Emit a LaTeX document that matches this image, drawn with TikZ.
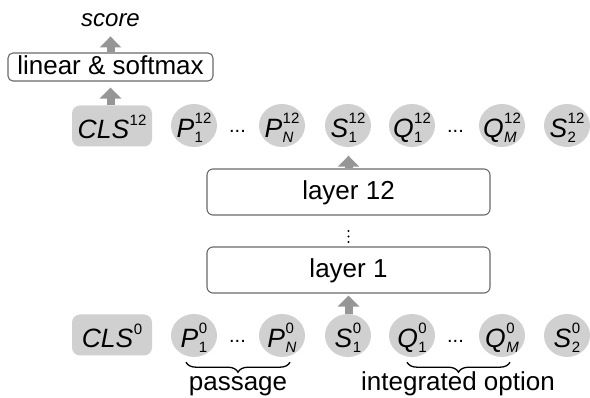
\documentclass[tikz,border=0pt]{standalone}
\usepackage{fontspec}
\setmainfont{Liberation Sans}
\usetikzlibrary{arrows.meta,shapes.geometric,decorations.pathreplacing,calc}
\definecolor{tokfill}{RGB}{208,208,208}
\definecolor{arrgray}{RGB}{150,150,150}
\definecolor{boxline}{RGB}{105,105,105}
\newcommand\tokfont{\fontsize{26.5}{30}\selectfont}
\newcommand\labfont{\fontsize{26}{30}\selectfont}
\newcommand\tksz{\fontsize{15}{15}\selectfont}
\newcommand\supsub[2]{\raisebox{-5pt}{\tksz\begin{tabular}[b]{@{}l@{}}#1\\[4pt]#2\end{tabular}}}
\newcommand\tk[3]{\smash{\makebox[0pt]{\raisebox{-12pt}{\textit{#1}\kern0.5pt\supsub{#2}{#3}}}}}
\newcommand\tkc[1]{\smash{\makebox[0pt]{\raisebox{-13pt}{\textit{CLS}\kern0.5pt\raisebox{13pt}{\tksz #1}}}}}
\begin{document}
\begin{tikzpicture}[x=1pt,y=-1pt,
  tok/.style={ellipse, fill=tokfill, minimum width=46pt, minimum height=43pt, inner sep=0pt, font=\tokfont},
  clsbox/.style={rectangle, rounded corners=8pt, fill=tokfill, minimum width=80pt, minimum height=41pt, inner sep=0pt, font=\tokfont},
  layerbox/.style={draw=boxline, line width=1.1pt, rounded corners=6pt, minimum width=283pt, minimum height=46pt, inner sep=0pt, text height=18.5pt, text depth=2.5pt, font=\labfont},
  linbox/.style={draw=boxline, line width=1.1pt, rounded corners=5pt, minimum width=205pt, minimum height=28pt, inner sep=0pt, text height=18.5pt, text depth=2.5pt, font=\labfont},
  uparrow/.style={draw=arrgray, line width=8pt, -{Triangle[width=21pt,length=11pt]}},
  dotsnode/.style={anchor=base, inner sep=0pt, font=\fontsize{20}{22}\selectfont},
  bracelab/.style={anchor=base, inner sep=0pt, font=\labfont},
  bracedraw/.style={decorate, decoration={brace, amplitude=10pt, mirror}, line width=1.3pt}
]
\useasboundingbox (0,0) rectangle (590,398);

% output
\node[anchor=base, inner sep=0pt, font=\fontsize{24}{28}\selectfont\itshape] (score) at (110.5,27) {score};
\node[linbox] (lin) at (110.5,67) {linear \& softmax};

% top row
\node[clsbox] (clst) at (112,126) {\tkc{12}};
\node[tok] (p1t) at (194,125.5) {\tk{P}{12}{1}};
\node[dotsnode] (d1t) at (237.5,133) {...};
\node[tok] (pnt) at (282,125.5) {\tk{P}{12}{\textit{N}}};
\node[tok] (s1t) at (348,125.5) {\tk{S}{12}{1}};
\node[tok] (q1t) at (412,125.5) {\tk{Q}{12}{1}};
\node[dotsnode] (d2t) at (455.5,133) {...};
\node[tok] (qmt) at (502,125.5) {\tk{Q}{12}{\textit{M}}};
\node[tok] (s2t) at (567,125.5) {\tk{S}{12}{2}};

% layers
\node[layerbox] (l12) at (348.5,192) {layer 12};
\node[layerbox] (l1) at (348.5,270) {layer 1};
\coordinate (vd) at (348.5,236.5);
\foreach \dy in {-5.5,0,5.5} \fill ($(vd)+(0,\dy)$) circle (1.2pt);

% bottom row
\node[clsbox] (clsb) at (112,335) {\tkc{0}};
\node[tok] (p1b) at (194,335.5) {\tk{P}{0}{1}};
\node[dotsnode] (d1b) at (237.5,343) {...};
\node[tok] (pnb) at (282,335.5) {\tk{P}{0}{\textit{N}}};
\node[tok] (s1b) at (348,335.5) {\tk{S}{0}{1}};
\node[tok] (q1b) at (412,335.5) {\tk{Q}{0}{1}};
\node[dotsnode] (d2b) at (455.5,343) {...};
\node[tok] (qmb) at (502,335.5) {\tk{Q}{0}{\textit{M}}};
\node[tok] (s2b) at (567,335.5) {\tk{S}{0}{2}};

% arrows
\draw[uparrow, shorten >=9pt] (lin.north) -- (lin.north |- score.south);
\draw[uparrow, shorten >=6pt] (lin.south |- clst.north) -- (lin.south);
\draw[uparrow, shorten >=8.5pt] (l12.north) -- (l12.north |- s1t.south);
\draw[uparrow, shorten >=2pt] (l1.south |- s1b.north) -- (l1.south);

% braces
\draw[bracedraw] ($(p1b.south)+(-8,5)$) -- ($(pnb.south)+(8,5)$);
\draw[bracedraw] ($(q1b.south)+(-5,5)$) -- ($(qmb.south)+(8,5)$);
\node[bracelab] (pass) at (238,391) {passage};
\node[bracelab] (intopt) at (458,391) {integrated option};
\end{tikzpicture}
\end{document}
